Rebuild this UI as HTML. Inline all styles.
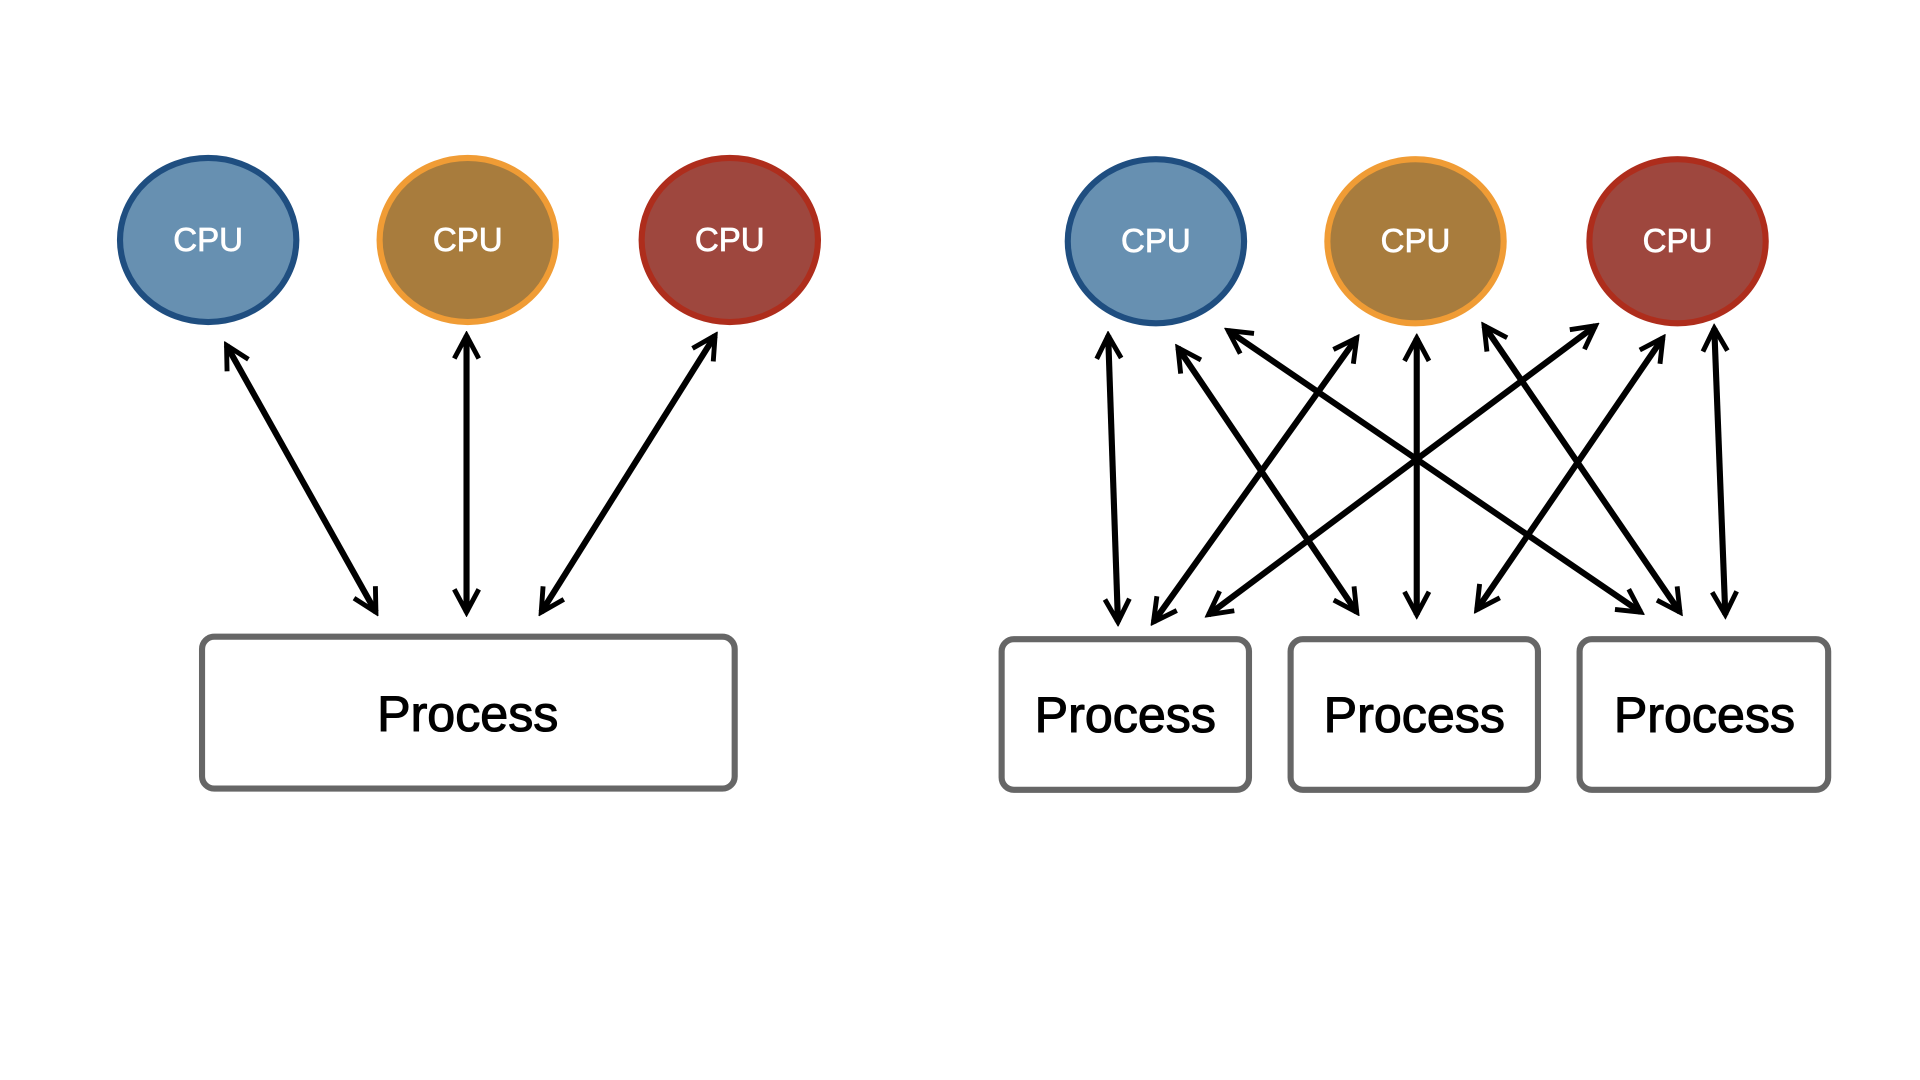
<!DOCTYPE html>
<html><head><meta charset="utf-8"><style>html,body{margin:0;padding:0;background:#fff;}svg{display:block}</style></head>
<body>
<svg width="1920" height="1080" viewBox="0 0 1568 882" xmlns="http://www.w3.org/2000/svg">
<defs>
<marker id="a" viewBox="0 0 20 20" refX="17" refY="10" markerWidth="5" markerHeight="5" orient="auto-start-reverse" markerUnits="strokeWidth">
<path d="M2,2 L17,10 L2,18" fill="none" stroke="#000" stroke-width="3.2"/>
</marker>
</defs>
<rect width="1568" height="882" fill="#fff"/>
<g stroke-width="5">
<ellipse cx="170" cy="196" rx="72" ry="67" fill="#6790b1" stroke="#1f4e80"/>
<ellipse cx="382" cy="196" rx="72" ry="67" fill="#a87c3d" stroke="#f09c35"/>
<ellipse cx="596" cy="196" rx="72" ry="67" fill="#9e473e" stroke="#ae2d1c"/>
<ellipse cx="944" cy="197" rx="72" ry="67" fill="#6790b1" stroke="#1f4e80"/>
<ellipse cx="1156" cy="197" rx="72" ry="67" fill="#a87c3d" stroke="#f09c35"/>
<ellipse cx="1370" cy="197" rx="72" ry="67" fill="#9e473e" stroke="#ae2d1c"/>
</g>
<g font-family="Liberation Sans, sans-serif" font-size="27" fill="#fff" stroke="#fff" stroke-width="0.6" text-anchor="middle">
<text x="170" y="205">CPU</text><text x="382" y="205">CPU</text><text x="596" y="205">CPU</text>
<text x="944" y="206">CPU</text><text x="1156" y="206">CPU</text><text x="1370" y="206">CPU</text>
</g>
<g fill="#fff" stroke="#666" stroke-width="5">
<rect x="165" y="520" width="435" height="124" rx="10"/>
<rect x="818" y="522" width="202" height="123" rx="10"/>
<rect x="1054" y="522" width="202" height="123" rx="10"/>
<rect x="1290" y="522" width="203" height="123" rx="10"/>
</g>
<g font-family="Liberation Sans, sans-serif" font-size="41" fill="#000" stroke="#000" stroke-width="0.9" text-anchor="middle">
<text x="382" y="597">Process</text>
<text x="919" y="598">Process</text>
<text x="1155" y="598">Process</text>
<text x="1392" y="598">Process</text>
</g>
<g stroke="#000" stroke-width="5" fill="none" marker-start="url(#a)" marker-end="url(#a)">
<line x1="185" y1="282" x2="307" y2="500"/>
<line x1="381" y1="274" x2="381" y2="500"/>
<line x1="584" y1="274" x2="442" y2="500"/>
<line x1="905" y1="274" x2="913" y2="508"/>
<line x1="962" y1="284" x2="1108" y2="500"/>
<line x1="1003" y1="270" x2="1340" y2="500"/>
<line x1="1108" y1="276" x2="942" y2="508"/>
<line x1="1157" y1="276" x2="1157" y2="502"/>
<line x1="1212" y1="266" x2="1372" y2="500"/>
<line x1="1303" y1="266" x2="987" y2="502"/>
<line x1="1358" y1="276" x2="1206" y2="498"/>
<line x1="1400" y1="268" x2="1409" y2="502"/>
</g>
</svg>
</body></html>
